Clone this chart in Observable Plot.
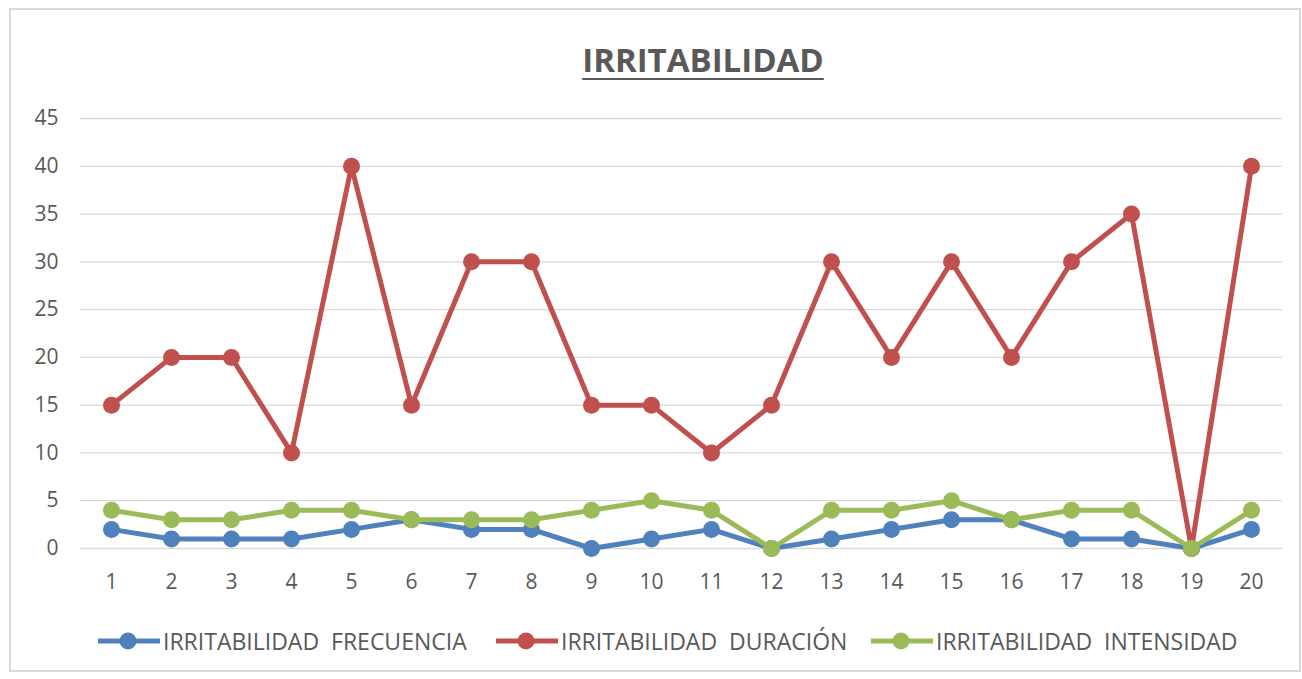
<!DOCTYPE html>
<html>
<head>
<meta charset="utf-8">
<script src="https://cdn.jsdelivr.net/npm/d3@7"></script>
<script src="https://cdn.jsdelivr.net/npm/@observablehq/plot@0.6"></script>
<style>
  html, body { margin: 0; padding: 0; background: #fff; }
  #frame { position: absolute; left: 9px; top: 8px; width: 1292px; height: 664px; border: 2px solid #d9d9d9; box-sizing: border-box; }
  #title { position: absolute; left: 52px; width: 1302px; top: 40px; text-align: center; font-family: "Open Sans", sans-serif; font-weight: bold; font-size: 33px; line-height: 40px; color: #595959; text-decoration: underline; text-underline-offset: 6px; text-decoration-thickness: 2px; }
  #chart { position: absolute; left: 0; top: 100px; }
  #legend { position: absolute; top: 627px; left: 0; width: 1302px; font-family: "Open Sans", sans-serif; font-size: 23px; color: #595959; }
  .item { position: absolute; display: flex; align-items: center; height: 28px; white-space: pre; }
</style>
</head>
<body>
<div id="frame"></div>
<div id="title">IRRITABILIDAD</div>
<div id="chart"></div>
<div id="legend"></div>
<script>
const categories = [1,2,3,4,5,6,7,8,9,10,11,12,13,14,15,16,17,18,19,20];
const frecuencia = [2,1,1,1,2,3,2,2,0,1,2,0,1,2,3,3,1,1,0,2];
const duracion   = [15,20,20,10,40,15,30,30,15,15,10,15,30,20,30,20,30,35,0,40];
const intensidad = [4,3,3,4,4,3,3,3,4,5,4,0,4,4,5,3,4,4,0,4];
const seriesNames = ["IRRITABILIDAD  FRECUENCIA", "IRRITABILIDAD  DURACIÓN", "IRRITABILIDAD  INTENSIDAD"];
const seriesColors = ["#4f81bd", "#c0504d", "#9bbb59"];
const yTicks = [0,5,10,15,20,25,30,35,40,45];

const seriesValues = [frecuencia, duracion, intensidad];
const data = [];
seriesValues.forEach((vals, s) => vals.forEach((v, i) => data.push({x: categories[i], y: v, s: seriesNames[s]})));

const marks = [
  Plot.gridY(yTicks, {stroke: "#d9d9d9", strokeOpacity: 1, strokeWidth: 1.3})
];
seriesNames.forEach((name, s) => {
  const d = data.filter(r => r.s === name);
  marks.push(Plot.line(d, {x: "x", y: "y", stroke: seriesColors[s], strokeWidth: 5, strokeLinejoin: "round"}));
  marks.push(Plot.dot(d, {x: "x", y: "y", fill: seriesColors[s], r: 8.5}));
});

const chart = Plot.plot({
  width: 1302,
  height: 500,
  marginLeft: 80,
  marginRight: 20,
  marginTop: 18,
  marginBottom: 52,
  style: {fontFamily: "'Open Sans', sans-serif", fontSize: "21px", color: "#595959", background: "transparent"},
  x: {type: "point", domain: categories, padding: 0.5, label: null, tickSize: 0, tickPadding: 26},
  y: {domain: [0, 45], ticks: yTicks, label: null, tickSize: 0, tickPadding: 22},
  marks
});
document.getElementById("chart").appendChild(chart);

const legend = document.getElementById("legend");
const lefts = [97, 495, 870];
seriesNames.forEach((name, s) => {
  const item = document.createElement("div");
  item.className = "item";
  item.style.left = lefts[s] + "px";
  item.innerHTML = `<svg width="64" height="28"><line x1="1" x2="63" y1="14" y2="14" stroke="${seriesColors[s]}" stroke-width="5"/><circle cx="31" cy="14" r="8.5" fill="${seriesColors[s]}"/></svg><span style="margin-left:2px">${name}</span>`;
  legend.appendChild(item);
});
</script>
</body>
</html>
